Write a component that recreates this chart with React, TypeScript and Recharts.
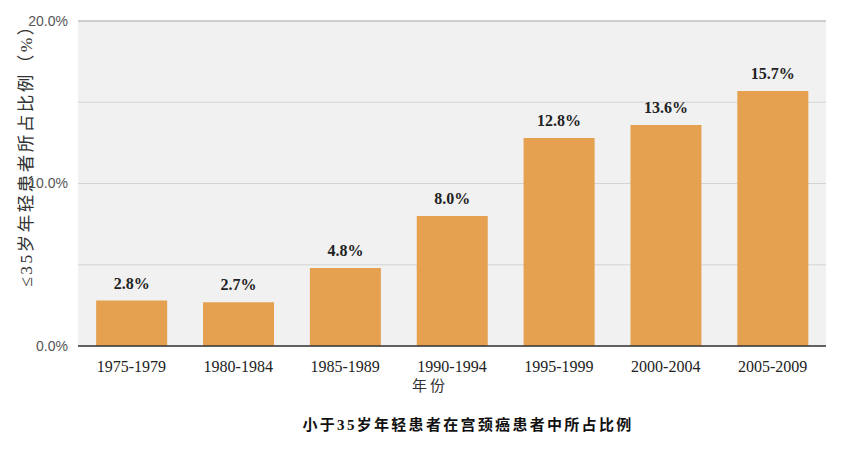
import { BarChart, Bar, XAxis, YAxis, CartesianGrid, LabelList, ReferenceLine } from 'recharts';

const periods = ['1975-1979', '1980-1984', '1985-1989', '1990-1994', '1995-1999', '2000-2004', '2005-2009'];
const shares = [2.8, 2.7, 4.8, 8.0, 12.8, 13.6, 15.7];
const yTicks = [0, 5, 10, 15, 20];
const labeledTicks = [0, 10, 20];

const data = periods.map((period, i) => ({ period, share: shares[i] }));

const serif = '"Liberation Serif", "Times New Roman", "Noto Sans CJK SC", serif';
const cjk = '"Liberation Serif", "Noto Sans CJK SC", serif';

const App = () => {
    return (
        <div style={{ position: 'absolute', left: 0, top: 0, width: 848, height: 470, background: '#ffffff' }}>
            <BarChart
                width={848}
                height={470}
                data={data}
                margin={{ top: 21, right: 22, bottom: 94, left: 0 }}
                barCategoryGap="17%"
            >
                <CartesianGrid vertical={false} stroke="#d4d4d4" fill="#f1f1f1" />
                <ReferenceLine y={20} stroke="#b8b8b8" />
                <XAxis
                    dataKey="period"
                    height={30}
                    tickLine={false}
                    tickMargin={9}
                    axisLine={{ stroke: '#333333', strokeWidth: 1.5 }}
                    tick={{ fontFamily: serif, fontSize: 16, fill: '#222222' }}
                />
                <YAxis
                    width={78}
                    domain={[0, 20]}
                    ticks={yTicks}
                    interval={0}
                    axisLine={false}
                    tickLine={false}
                    tickMargin={4}
                    tickFormatter={(v: number) => (labeledTicks.includes(v) ? `${v.toFixed(1)}%` : '')}
                    tick={{ fontFamily: '"Liberation Sans", Arial, sans-serif', fontSize: 14, fill: '#555555' }}
                />
                <Bar dataKey="share" fill="#e5a050" isAnimationActive={false}>
                    <LabelList
                        dataKey="share"
                        position="top"
                        offset={12}
                        formatter={(v: number) => `${v.toFixed(1)}%`}
                        style={{ fontFamily: serif, fontSize: 16, fontWeight: 700, fill: '#222222' }}
                    />
                </Bar>
                <text
                    x={0}
                    y={0}
                    transform="translate(28,151) rotate(-90)"
                    textAnchor="middle"
                    dominantBaseline="middle"
                    style={{ fontFamily: cjk, fontSize: 17.5, letterSpacing: 2.5, fill: '#333333' }}
                >
                    ≤35岁年轻患者所占比例（%）
                </text>
                <text
                    x={430}
                    y={388}
                    textAnchor="middle"
                    dominantBaseline="middle"
                    style={{ fontFamily: cjk, fontSize: 15, letterSpacing: 3, fill: '#333333' }}
                >
                    年份
                </text>
                <text
                    x={468}
                    y={427}
                    textAnchor="middle"
                    dominantBaseline="middle"
                    style={{ fontFamily: cjk, fontSize: 15, fontWeight: 700, letterSpacing: 2.3, fill: '#111111' }}
                >
                    小于35岁年轻患者在宫颈癌患者中所占比例
                </text>
            </BarChart>
        </div>
    );
};

export default App;
